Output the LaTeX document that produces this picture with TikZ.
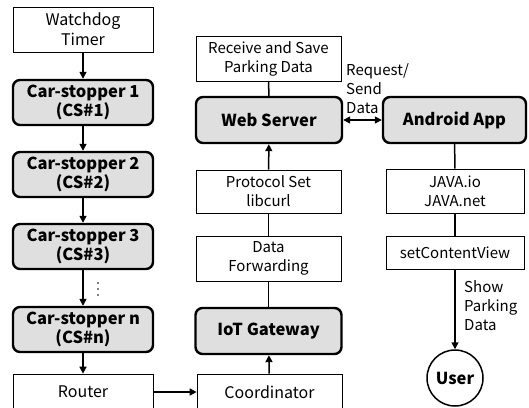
\documentclass[tikz,border=0pt]{standalone}
\usepackage{amsmath}
\usepackage{fontspec}
\setmainfont{Noto Sans CJK KR}
\usetikzlibrary{arrows.meta}

\begin{document}
\begin{tikzpicture}[x=1pt, y=-1pt,
	every node/.style={font=\fontsize{15}{19}\selectfont, align=center, inner sep=0pt},
	plainbox/.style={rectangle, draw=black, line width=0.7pt, fill=white, minimum width=140pt, minimum height=45pt},
	corebox/.style={rectangle, rounded corners=7pt, draw=black, line width=2.4pt, fill=gray!25, minimum width=140pt, minimum height=45pt, font=\fontsize{16.5}{19}\selectfont\bfseries},
	link/.style={draw=black, line width=1.5pt},
	arrowlink/.style={link, -{Triangle[width=7pt,length=7pt]}}]
			\useasboundingbox (0,0) rectangle (529,407);
			\clip (0,0) rectangle (529,407);
			
			% left column
			\node[plainbox, font=\fontsize{16}{20}\selectfont] (wd) at (83,29.5){Watchdog\\Timer};
			\node[corebox] (cs1) at (83,102.5){Car-stopper 1\\(CS\#1)};
			\node[corebox] (cs2) at (83,174.5){Car-stopper 2\\(CS\#2)};
			\node[corebox] (cs3) at (83,246.5){Car-stopper 3\\(CS\#3)};
			\node[corebox] (csn) at (83,329.5){Car-stopper n\\(CS\#n)};
			\node[plainbox, minimum height=36pt, font=\fontsize{16}{19}\selectfont] (router) at (83,392){Router};
			\foreach \dy in {-6,0,6}
				\fill (98,289+\dy) circle (0.9pt);
			
			% middle column
			\node[plainbox, minimum width=145pt] (recv) at (268.5,58.5){Receive and Save\\Parking Data};
			\node[corebox, minimum width=146pt, minimum height=46pt] (web) at (269,120){Web Server};
			\node[plainbox, minimum width=145pt, minimum height=43pt] (proto) at (268.5,191.5){Protocol Set\\libcurl};
			\node[plainbox, minimum width=145pt] (fwd) at (268.5,258.5){Data\\Forwarding};
			\node[corebox, minimum width=146pt, minimum height=46pt] (iot) at (268.5,331){IoT Gateway};
			\node[plainbox, minimum width=145pt, minimum height=36pt, font=\fontsize{16}{19}\selectfont] (coord) at (269.5,392){Coordinator};
			
			% right column
			\node[corebox, minimum width=143pt, minimum height=46pt] (app) at (454.5,120){Android App};
			\node[plainbox, minimum width=138pt, minimum height=44pt] (java) at (455,191){JAVA.io\\JAVA.net};
			\node[plainbox, minimum width=138pt, minimum height=33pt] (setcv) at (455,252.5){setContentView};
			\node[circle, draw=black, line width=1.5pt, minimum size=56pt, font=\fontsize{16.5}{19}\selectfont\bfseries] (user) at (455,378){User};
			
			\node[anchor=west, align=left] (reqtext) at (346,88.5){Request/\\Send\\Data};
			\node[anchor=west, align=left] (showtext) at (464,306){Show\\Parking\\Data};
			
			\path[arrowlink] (wd) edge (cs1);
			\path[arrowlink] (cs1) edge (cs2);
			\path[arrowlink] (cs2) edge (cs3);
			\path[arrowlink] (cs3) edge (csn);
			\path[arrowlink] (csn) edge (router);
			\path[arrowlink] (router) edge (coord);
			\path[arrowlink] (coord) edge (iot);
			\path[link] (iot) edge (fwd);
			\path[link] (fwd) edge (proto);
			\path[arrowlink] (proto) edge (web);
			\path[link] (web) edge (recv);
			\path[arrowlink, {Triangle[width=7pt,length=7pt]}-{Triangle[width=7pt,length=7pt]}] (web) edge (app);
			\path[link] (app) edge (java);
			\path[link] (java) edge (setcv);
			\path[arrowlink] (setcv) edge (user);
			\end{tikzpicture}
\end{document}
